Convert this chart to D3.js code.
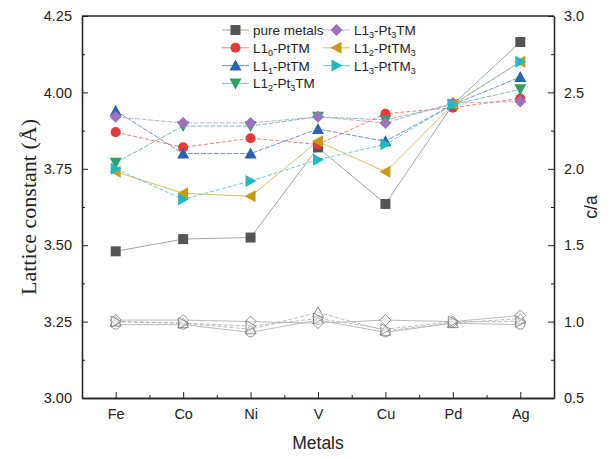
<!DOCTYPE html>
<html>
<head>
	<meta charset="utf-8">
	<title>Lattice constant</title>
	<script src="https://cdn.jsdelivr.net/npm/d3@7"></script>
	<style>
		body { margin: 0; background: #fff; }
		text { font-family: "Liberation Sans", Arial, sans-serif; fill: #222; }
		.axis path, .axis line { stroke: #222; }
		.axis text { font-size: 14.5px; }
	</style>
</head>
<body>
	<svg width="611" height="459"></svg>
	<script>
		// metals on the x axis
		var metals = ["Fe", "Co", "Ni", "V", "Cu", "Pd", "Ag"];

		// lattice constants (Å)
		var pureMetals = [3.48, 3.52, 3.525, 3.82, 3.635, 3.96, 4.165];
		var l10PtTM = [3.87, 3.82, 3.85, 3.83, 3.93, 3.95, 3.98];
		var l11PtTM = [3.94, 3.80, 3.80, 3.88, 3.84, 3.96, 4.05];
		var l12Pt3TM = [3.77, 3.89, 3.89, 3.92, 3.91, 3.96, 4.01];
		var l13Pt3TM = [3.92, 3.90, 3.90, 3.92, 3.90, 3.965, 3.97];
		var l12PtTM3 = [3.74, 3.67, 3.66, 3.84, 3.74, 3.96, 4.10];
		var l13PtTM3 = [3.75, 3.65, 3.71, 3.78, 3.83, 3.96, 4.10];

		// c/a ratios (open markers, right axis)
		var caL10 = [0.98, 0.98, 0.93, 1.01, 0.93, 0.99, 0.98];
		var caL11 = [1.00, 0.99, 0.95, 1.06, 0.94, 0.99, 1.02];
		var caL13Pt3 = [1.01, 1.01, 1.00, 0.99, 1.01, 1.00, 1.04];
		var caL13PtTM3 = [1.00, 0.99, 0.97, 1.02, 0.95, 1.00, 1.00];

		var leftTicks = [3.00, 3.25, 3.50, 3.75, 4.00, 4.25];
		var rightTicks = [0.5, 1.0, 1.5, 2.0, 2.5, 3.0];

		var series = [
			{ name: [["pure metals"]], values: pureMetals, color: "#555555", line: "#9a9a9a", shape: "square", dash: null },
			{ name: [["L1"], ["0", "sub"], ["-PtTM"]], values: l10PtTM, color: "#e53a3a", line: "#e87070", shape: "circle", dash: "4,2" },
			{ name: [["L1"], ["1", "sub"], ["-PtTM"]], values: l11PtTM, color: "#2a62ad", line: "#6088c0", shape: "up", dash: "5,1.5" },
			{ name: [["L1"], ["2", "sub"], ["-Pt"], ["3", "sub"], ["TM"]], values: l12Pt3TM, color: "#2e9e68", line: "#70b898", shape: "down", dash: "5,1.5" },
			{ name: [["L1"], ["3", "sub"], ["-Pt"], ["3", "sub"], ["TM"]], values: l13Pt3TM, color: "#9a72c0", line: "#bca4d4", shape: "diamond", dash: "5,1.5" },
			{ name: [["L1"], ["2", "sub"], ["-PtTM"], ["3", "sub"]], values: l12PtTM3, color: "#c99a18", line: "#d8b458", shape: "left", dash: null },
			{ name: [["L1"], ["3", "sub"], ["-PtTM"], ["3", "sub"]], values: l13PtTM3, color: "#22b6c0", line: "#5cc6cc", shape: "right", dash: "4,2" }
		];

		var caSeries = [
			{ values: caL10, shape: "circle", dash: null },
			{ values: caL11, shape: "up", dash: "4,2" },
			{ values: caL13Pt3, shape: "diamond", dash: null },
			{ values: caL13PtTM3, shape: "right", dash: "4,2" }
		];

		var svg = d3.select("svg");
		var pLeft = 82, pRight = 554, pTop = 16, pBottom = 398;

		var x = d3.scaleLinear().domain([-0.5, metals.length - 0.5]).range([pLeft, pRight]);
		var y = d3.scaleLinear().domain([3.0, 4.25]).range([pBottom, pTop]);
		var y2 = d3.scaleLinear().domain([0.5, 3.0]).range([pBottom, pTop]);

		// marker shapes
		function shapePath(shape, s) {
			var h = s / 2;
			if (shape === "square") return "M" + -h + "," + -h + "H" + h + "V" + h + "H" + -h + "Z";
			if (shape === "circle") return d3.symbol(d3.symbolCircle, s * s * 0.8)();
			if (shape === "diamond") return "M0," + (-h - 1) + "L" + (h + 1) + ",0L0," + (h + 1) + "L" + (-h - 1) + ",0Z";
			if (shape === "up") return "M0," + (-h - 1) + "L" + (h + 1) + "," + h + "L" + (-h - 1) + "," + h + "Z";
			if (shape === "down") return "M0," + (h + 1) + "L" + (h + 1) + "," + -h + "L" + (-h - 1) + "," + -h + "Z";
			if (shape === "left") return "M" + (-h - 1) + ",0L" + h + "," + (-h - 1) + "L" + h + "," + (h + 1) + "Z";
			if (shape === "right") return "M" + (h + 1) + ",0L" + -h + "," + (-h - 1) + "L" + -h + "," + (h + 1) + "Z";
		}

		// axes
		var xAxis = d3.axisBottom(x).tickValues(d3.range(metals.length))
			.tickFormat(function(d) { return metals[d]; }).tickSizeInner(-6).tickSizeOuter(0).tickPadding(11);
		svg.append("g").attr("class", "axis").attr("transform", "translate(0," + pBottom + ")").call(xAxis);
		svg.append("g").attr("class", "axis").attr("transform", "translate(0," + pBottom + ")")
			.call(d3.axisBottom(x).tickValues(d3.range(metals.length - 1).map(function(d) { return d + 0.5; }))
				.tickFormat("").tickSizeInner(-3).tickSizeOuter(0));

		var yAxis = d3.axisLeft(y).tickValues(leftTicks).tickFormat(d3.format(".2f"))
			.tickSizeInner(-6).tickSizeOuter(0).tickPadding(10);
		svg.append("g").attr("class", "axis").attr("transform", "translate(" + pLeft + ",0)").call(yAxis);
		svg.append("g").attr("class", "axis").attr("transform", "translate(" + pLeft + ",0)")
			.call(d3.axisLeft(y).tickValues(leftTicks.slice(1).map(function(d) { return d - 0.125; }))
				.tickFormat("").tickSizeInner(-3).tickSizeOuter(0));

		var yAxis2 = d3.axisRight(y2).tickValues(rightTicks).tickFormat(d3.format(".1f"))
			.tickSizeInner(-6).tickSizeOuter(0).tickPadding(10);
		svg.append("g").attr("class", "axis").attr("transform", "translate(" + pRight + ",0)").call(yAxis2);
		svg.append("g").attr("class", "axis").attr("transform", "translate(" + pRight + ",0)")
			.call(d3.axisRight(y2).tickValues(rightTicks.slice(1).map(function(d) { return d - 0.25; }))
				.tickFormat("").tickSizeInner(-3).tickSizeOuter(0));

		svg.append("line").attr("x1", pLeft).attr("x2", pRight).attr("y1", pTop).attr("y2", pTop)
			.attr("stroke", "#222").attr("stroke-width", 1.3);
		svg.selectAll(".axis .domain").attr("stroke-width", 1.3);

		// axis titles
		svg.append("text").attr("x", (pLeft + pRight) / 2).attr("y", 449).attr("text-anchor", "middle")
			.style("font-size", "17.5px").text("Metals");
		svg.append("text").attr("transform", "translate(36," + ((pTop + pBottom) / 2) + ") rotate(-90)")
			.attr("text-anchor", "middle")
			.style("font-family", "'Liberation Serif', 'Times New Roman', serif").style("font-size", "22px")
			.text("Lattice constant (Å)");
		svg.append("text").attr("transform", "translate(597," + ((pTop + pBottom) / 2) + ") rotate(-90)")
			.attr("text-anchor", "middle").style("font-size", "17.5px").text("c/a");

		var line = function(scale) {
			return d3.line().x(function(d, i) { return x(i); }).y(function(d) { return scale(d); });
		};

		// c/a open markers
		caSeries.forEach(function(s) {
			svg.append("path").datum(s.values).attr("d", line(y2)).attr("fill", "none")
				.attr("stroke", "#aaa").attr("stroke-width", 0.8).attr("stroke-dasharray", s.dash);
			svg.selectAll(null).data(s.values).enter().append("path")
				.attr("transform", function(d, i) { return "translate(" + x(i) + "," + y2(d) + ")"; })
				.attr("d", shapePath(s.shape, 9)).attr("fill", "#fff").attr("fill-opacity", 0.4)
				.attr("stroke", "#777").attr("stroke-width", 0.8);
		});

		// lattice constant series
		series.forEach(function(s) {
			svg.append("path").datum(s.values).attr("d", line(y)).attr("fill", "none")
				.attr("stroke", s.line).attr("stroke-width", 0.9).attr("stroke-dasharray", s.dash);
		});
		series.forEach(function(s) {
			svg.selectAll(null).data(s.values).enter().append("path")
				.attr("transform", function(d, i) { return "translate(" + x(i) + "," + y(d) + ")"; })
				.attr("d", shapePath(s.shape, 10)).attr("fill", s.color);
		});

		// legend
		var legend = svg.append("g");
		series.forEach(function(s, i) {
			var col = i < 4 ? 0 : 1, row = i < 4 ? i : i - 4;
			var lx = col === 0 ? 222 : 323, ly = 30 + row * 17.8;
			var g = legend.append("g").attr("transform", "translate(" + lx + "," + ly + ")");
			g.append("line").attr("x1", 0).attr("x2", 27).attr("stroke", s.line).attr("stroke-width", 0.9);
			g.append("path").attr("transform", "translate(13.5,0)").attr("d", shapePath(s.shape, 10))
				.attr("fill", s.color);
			var t = g.append("text").attr("x", 31).attr("y", 5).style("font-size", "13.5px");
			s.name.forEach(function(p, k) {
				if (p[1] === "sub") {
					t.append("tspan").attr("dy", 3).style("font-size", "9px").text(p[0]);
				} else {
					var ts = t.append("tspan").text(p[0]);
					if (k > 0) ts.attr("dy", -3);
				}
			});
		});
	</script>
</body>
</html>
